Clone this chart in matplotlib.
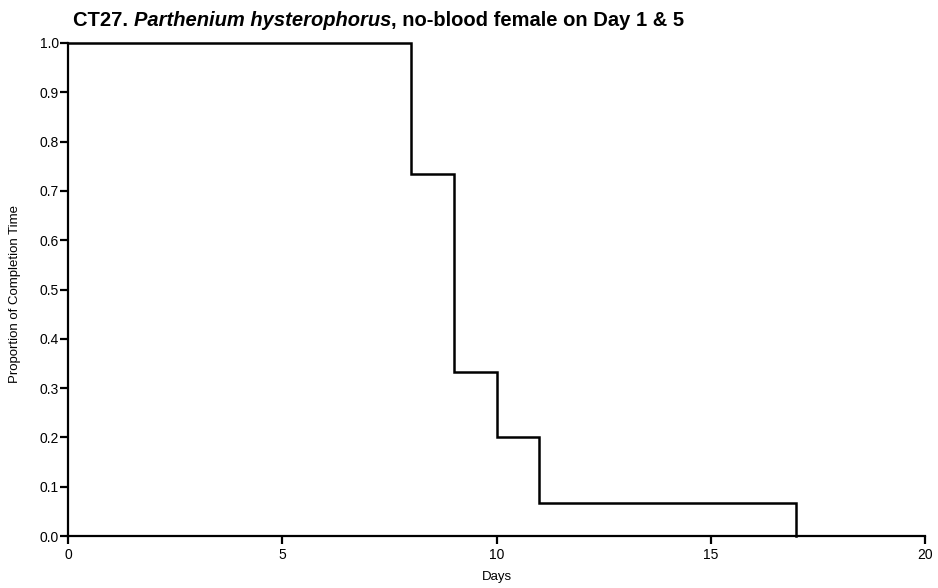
import matplotlib
matplotlib.use("Agg")
import matplotlib.pyplot as plt

plt.rcParams['font.family'] = ['Liberation Sans', 'DejaVu Sans']

# Kaplan-Meier style step data (n = 15)
days = [0, 8, 9, 10, 11, 17]
proportion = [1.0, 11/15, 5/15, 3/15, 1/15, 0.0]
x_ticks = [0, 5, 10, 15, 20]
y_ticks = [0.0, 0.1, 0.2, 0.3, 0.4, 0.5, 0.6, 0.7, 0.8, 0.9, 1.0]

W, H = 938, 588
fig = plt.figure(figsize=(W / 100, H / 100), dpi=100)
ax_left, ax_right, ax_top, ax_bottom = 68, 925, 43, 536
ax = fig.add_axes([ax_left / W, (H - ax_bottom) / H,
                   (ax_right - ax_left) / W, (ax_bottom - ax_top) / H])

# step curve: each level holds until the next event day
xs, ys = [], []
for i in range(len(days)):
    if i > 0:
        xs.append(days[i]); ys.append(proportion[i - 1])
    xs.append(days[i]); ys.append(proportion[i])
ax.plot(xs, ys, color='black', lw=1.8, solid_joinstyle='miter', clip_on=False)

ax.set_xlim(0, 20)
ax.set_ylim(0, 1.0)
ax.set_xticks(x_ticks)
ax.set_xticklabels([str(t) for t in x_ticks])
ax.set_yticks(y_ticks)
ax.set_yticklabels([f"{t:.1f}" for t in y_ticks])
for s in ['top', 'right']:
    ax.spines[s].set_visible(False)
for s in ['left', 'bottom']:
    ax.spines[s].set_linewidth(1.6)
ax.tick_params(direction='out', length=5.5, width=1.6, labelsize=10)
ax.tick_params(axis='y', pad=1)
ax.tick_params(axis='x', pad=3)
ax.set_xlabel('Days', fontsize=9.5)
ax.set_ylabel('Proportion of Completion Time', fontsize=9.5)
ax.xaxis.set_label_coords(0.5, -(571 - ax_bottom) / (ax_bottom - ax_top))
ax.yaxis.set_label_coords((21 - ax_left) / (ax_right - ax_left), 0.49)

# title with italic species name
t1 = fig.text(73 / W, 1 - 26 / H, 'CT27. ', fontsize=14.5, fontweight='bold', va='baseline')
t2 = ax.annotate('Parthenium hysterophorus', xy=(1, 0), xycoords=t1, va='bottom',
                 fontsize=14.5, fontweight='bold', fontstyle='italic')
t3 = ax.annotate(', no-blood female on Day 1 & 5', xy=(1, 0), xycoords=t2, va='bottom',
                 fontsize=14.5, fontweight='bold')

fig.savefig('out.png', dpi=100)
